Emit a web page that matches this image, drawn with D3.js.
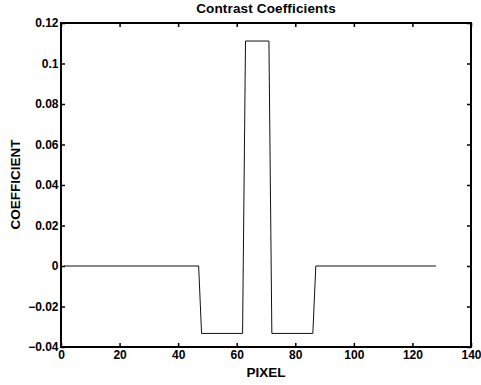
<!DOCTYPE html>
<html><head><meta charset="utf-8">
<script src="https://cdn.jsdelivr.net/npm/d3@7"></script>
<style>
body{margin:0;background:#fff;}
text{font-family:"Liberation Sans",Arial,Helvetica,sans-serif;font-weight:bold;}
</style></head>
<body>
<svg id="c" width="481" height="385"></svg>
<script>
const pixelX = [1, 47, 48, 62, 63, 71, 72, 86, 87, 128];
const coeffY = [0, 0, -0.0333, -0.0333, 0.1111, 0.1111, -0.0333, -0.0333, 0, 0];
const xTicks = [0, 20, 40, 60, 80, 100, 120, 140];
const yTicks = [-0.04, -0.02, 0, 0.02, 0.04, 0.06, 0.08, 0.1, 0.12];
const titleText = "Contrast Coefficients";
const xLabel = "PIXEL";
const yLabel = "COEFFICIENT";

const L = 61, R = 471, T = 23, B = 347;
const svg = d3.select("#c");
const x = d3.scaleLinear().domain([0, 140]).range([L, R]);
const y = d3.scaleLinear().domain([-0.04, 0.12]).range([B, T]);
const fmt = v => {
  let s = (Math.abs(v) < 1e-9) ? "0" : d3.format("~g")(+v.toFixed(4));
  return s.replace("-", "\u2013");
};

// line
const pts = pixelX.map((p, i) => [p, coeffY[i]]);
svg.append("path")
  .attr("d", d3.line().x(d => x(d[0])).y(d => y(d[1]))(pts))
  .attr("fill", "none").attr("stroke", "#111").attr("stroke-width", 1);

const tl = 4;
// axes
const gB = svg.append("g").attr("transform", `translate(0,${B})`)
  .call(d3.axisBottom(x).tickValues(xTicks).tickSizeInner(-tl).tickSizeOuter(0).tickPadding(6).tickFormat(fmt));
const gT = svg.append("g").attr("transform", `translate(0,${T})`)
  .call(d3.axisTop(x).tickValues(xTicks).tickSizeInner(-tl).tickSizeOuter(0).tickFormat(""));
const gL = svg.append("g").attr("transform", `translate(${L},0)`)
  .call(d3.axisLeft(y).tickValues(yTicks).tickSizeInner(-tl).tickSizeOuter(0).tickPadding(2.5).tickFormat(fmt));
const gR = svg.append("g").attr("transform", `translate(${R},0)`)
  .call(d3.axisRight(y).tickValues(yTicks).tickSizeInner(-tl).tickSizeOuter(0).tickFormat(""));
[gB, gT, gL, gR].forEach(g => {
  g.select(".domain").remove();
  g.selectAll(".tick line").attr("stroke", "#000").attr("stroke-width", 1.5);
  g.selectAll(".tick text").attr("font-size", 12).attr("fill", "#000")
    .attr("font-family", "'Liberation Sans',Arial,sans-serif").attr("font-weight", "bold");
});
gB.selectAll(".tick text").attr("dy", "0.5em");

svg.append("rect").attr("x", L).attr("y", T).attr("width", R - L).attr("height", B - T)
  .attr("fill", "none").attr("stroke", "#000").attr("stroke-width", 2);

svg.append("text").attr("x", 266).attr("y", 13.3).attr("text-anchor", "middle")
  .attr("font-size", 13.5).attr("letter-spacing", 0.15).text(titleText);
svg.append("text").attr("x", 266).attr("y", 377.3).attr("text-anchor", "middle")
  .attr("font-size", 13.5).text(xLabel);
svg.append("text").attr("transform", `translate(19.5,184.5) rotate(-90)`)
  .attr("text-anchor", "middle").attr("font-size", 13.5).text(yLabel);
</script>
</body></html>
